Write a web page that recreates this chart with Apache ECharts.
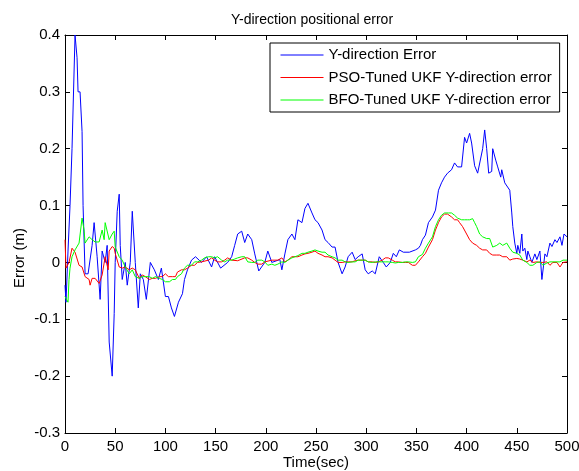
<!DOCTYPE html>
<html>
<head>
<meta charset="utf-8">
<script src="https://cdn.jsdelivr.net/npm/echarts@6/dist/echarts.min.js"></script>
<style>
html, body { margin: 0; padding: 0; background: #fff; }
#chart { width: 579px; height: 471px; }
</style>
</head>
<body>
<div id="chart"></div>
<script>
// ******** data ********
var seriesNames = ['Y-direction Error', 'PSO-Tuned UKF Y-direction error', 'BFO-Tuned UKF Y-direction error'];
var seriesColors = ['#0000ff', '#ff0000', '#00ff00'];

var blueT = [0,1,3,5,7,10,12,13,15,17,18,20,23,27,29,32,35,37,40,42,44,47,49,50,52,54,55,57,60,62,
    65,67,70,73,75,78,81,85,89,93,96,100,103,106,109,113,117,119,122,126,130,136,141,146,149,155,162,166,169,172,
    176,179,182,186,189,193,199,202,206,214,216,219,222,226,229,232,236,239,242,246,249,252,256,259,262,266,269,272,276,279,
    282,286,289,292,296,299,302,306,309,313,317,320,324,327,330,333,337,343,349,352,354,356,359,362,366,369,372,375,378,381,
    385,388,391,395,398,400,403,405,408,411,416,418,420,422,425,426,429,431,434,435,438,443,445,446,448,450,451,453,455,456,
    458,460,461,463,465,468,470,473,475,478,480,483,485,488,490,493,495,497,500];
var blueY = [-0.04,-0.07,0.02,0.1,0.2,0.4,0.36,0.3,0.3,0.23,0.1,-0.02,-0.02,0.03,0.07,0.01,-0.065,0.02,0,0.03,
    -0.14,-0.2,-0.09,0,0.09,0.12,0.03,-0.03,0,-0.04,0,0.09,0,-0.08,-0.02,-0.03,-0.065,0,-0.013,-0.03,
    -0.01,-0.06,-0.06,-0.08,-0.095,-0.07,-0.055,-0.03,-0.013,0.004,0.01,0,0.01,-0.008,0.01,-0.01,0,0.01,0.03,0.05,
    0.055,0.035,0.05,0.04,0.015,-0.015,0,0.02,0,0.005,-0.013,0.015,0.04,0.05,0.04,0.075,0.07,0.095,0.104,0.087,
    0.075,0.07,0.057,0.04,0.035,0.027,0.027,0,-0.02,-0.008,0.01,0.018,0.005,0.01,0.015,-0.013,-0.02,-0.015,-0.02,0.01,
    0,-0.008,0,0.016,0.01,0.022,0.018,0.018,0.022,0.025,0.03,0.04,0.048,0.07,0.08,0.092,0.127,0.14,0.15,0.157,
    0.163,0.175,0.168,0.168,0.22,0.21,0.227,0.21,0.17,0.157,0.2,0.233,0.2,0.157,0.16,0.2,0.18,0.168,0.15,0.163,
    0.14,0.127,0.087,0.063,0.034,0.016,0.03,0.016,0.05,0.02,0.025,0.005,0.02,0.01,0,0.015,0.005,0.02,-0.03,0.015,
    0.01,0.034,0.028,0.04,0.035,0.045,0.03,0.05,0.045];

var redT = [0,1,4,7,10,14,17,20,24,25,27,30,34,37,40,43,44,47,49,50,54,57,60,64,67,70,74,77,80,84,
    87,90,94,97,100,103,107,110,112,116,119,122,126,129,132,136,143,146,149,152,156,159,162,166,172,179,182,186,189,192,
    196,199,206,212,216,219,222,226,232,236,239,242,246,249,252,256,259,262,266,269,272,276,279,282,286,289,292,296,299,302,
    306,309,312,316,319,322,326,329,332,336,339,342,346,349,352,356,359,362,366,369,372,375,378,381,385,388,391,393,396,400,
    403,406,410,413,416,420,423,426,430,433,436,440,443,446,450,453,456,460,463,466,470,473,476,480,483,486,490,493,496,500];
var redY = [0.04,-0.01,0,0.025,0.018,-0.005,-0.008,-0.025,-0.03,-0.04,-0.028,-0.028,-0.037,-0.022,0.01,-0.013,0.02,0.028,0.025,0.016,
    -0.008,-0.01,-0.008,-0.013,-0.01,-0.013,-0.028,-0.022,-0.025,-0.03,-0.028,-0.028,-0.025,-0.025,-0.02,-0.025,-0.025,-0.025,-0.017,-0.013,
    -0.013,-0.01,-0.005,-0.005,0,0.001,0.004,0.008,0.004,0.001,0.001,0.004,0.008,0.004,0.003,0.008,0.008,0.004,0,-0.003,
    -0.003,0.001,0.004,0.004,0.008,0.001,0.004,0.01,0.01,0.013,0.015,0.016,0.018,0.02,0.016,0.013,0.01,0.01,0.008,0.004,
    0,0,0.001,0.001,0.001,0.003,0.004,0.004,0.004,0.001,0.001,0,0.001,0.004,0.008,0.008,0.004,0.001,0.001,0,
    0,0,-0.005,-0.005,0.001,0.01,0.016,0.027,0.04,0.057,0.07,0.08,0.085,0.085,0.08,0.075,0.075,0.07,0.063,0.05,
    0.04,0.034,0.03,0.025,0.022,0.022,0.016,0.013,0.013,0.013,0.01,0.01,0.004,0.006,0.007,0.006,0.004,0.001,0.004,0,
    0.001,0,0,0.001,-0.005,0,0,-0.008,0,0.001];

var greenT = [0,1,3,4,5,7,10,14,17,19,20,24,27,30,34,37,39,40,44,47,49,50,54,57,60,64,67,70,74,77,
    80,84,87,90,94,97,100,104,107,110,112,116,119,122,126,129,132,136,139,143,146,149,152,156,159,162,166,169,172,176,
    179,182,186,189,192,196,199,202,206,209,212,216,219,222,226,229,232,236,239,242,246,249,252,256,259,262,266,269,272,276,
    279,282,286,289,292,296,299,302,306,309,312,316,319,322,326,329,332,336,339,342,346,349,352,356,359,362,366,369,372,375,
    378,382,385,388,391,395,398,401,403,406,408,410,413,416,420,423,426,430,433,436,440,443,446,450,453,456,460,463,466,470,
    473,476,480,483,486,490,493,496,500];
var greenY = [-0.06,-0.06,-0.07,-0.03,-0.01,0.01,0.022,0.034,0.078,0.057,0.034,0.045,0.04,0.036,0.036,0.057,0.04,0.07,0.04,0.05,
    0.055,0.027,0.01,0.004,-0.008,-0.02,-0.013,-0.025,-0.028,-0.025,-0.025,-0.025,-0.028,-0.025,-0.028,-0.03,-0.034,-0.034,-0.03,-0.03,
    -0.025,-0.02,-0.01,-0.005,-0.005,0.001,0.001,0.004,0.008,0.01,0.01,0.008,0.01,0.004,0.001,0.004,0.004,0.006,0.008,0.01,
    0.01,0.001,0,0,0.004,0.004,0.001,-0.005,-0.003,-0.005,-0.003,0.001,0,0.004,0.008,0.01,0.012,0.016,0.016,0.018,
    0.02,0.022,0.02,0.018,0.018,0.013,0.01,0.008,0.004,0.004,0.001,0,0.001,0.001,0.004,0.004,0.004,0.001,0,0.001,
    0.001,0.001,0.001,0.001,0,-0.001,0,0,0.001,0.001,0,0.001,0.01,0.014,0.025,0.034,0.045,0.063,0.075,0.083,
    0.087,0.087,0.087,0.083,0.078,0.075,0.075,0.075,0.075,0.077,0.07,0.063,0.05,0.045,0.042,0.042,0.027,0.03,0.034,0.03,
    0.034,0.025,0.018,0.016,0.013,0.004,0,-0.005,-0.005,0,0.001,-0.005,-0.001,0.001,0.001,0.001,0.001,0.004,0.004];

function pairs(t, y) {
    var out = [];
    for (var i = 0; i < t.length; i++) out.push([t[i], y[i]]);
    return out;
}

// ******** chart ********
var font = 'Liberation Sans, Arial, sans-serif';
var chart = echarts.init(document.getElementById('chart'));

function xAx(pos, showLabel) {
    return {
        type: 'value', position: pos, min: 0, max: 500, interval: 50,
        axisLine: { show: true, onZero: false, lineStyle: { color: '#000', width: 1 } },
        axisTick: { show: true, inside: true, length: 5, lineStyle: { color: '#000' } },
        axisLabel: { show: showLabel, color: '#000', fontSize: 15, fontFamily: font, margin: 6 },
        splitLine: { show: false }
    };
}
function yAx(pos, showLabel) {
    return {
        type: 'value', position: pos, min: -0.3, max: 0.4, interval: 0.1,
        axisLine: { show: true, onZero: false, lineStyle: { color: '#000', width: 1 } },
        axisTick: { show: true, inside: true, length: 5, lineStyle: { color: '#000' } },
        axisLabel: {
            show: showLabel, color: '#000', fontSize: 15, fontFamily: font, margin: 5,
            formatter: function (v) { return String(Number(v.toFixed(1))); }
        },
        splitLine: { show: false }
    };
}

var xBottom = xAx('bottom', true);
xBottom.name = 'Time(sec)';
xBottom.nameLocation = 'middle';
xBottom.nameGap = 22;
xBottom.nameMoveOverlap = false;
xBottom.nameTextStyle = { color: '#000', fontSize: 15, fontFamily: font };

var yLeft = yAx('left', true);
yLeft.name = 'Error (m)';
yLeft.nameLocation = 'middle';
yLeft.nameGap = 38;
yLeft.nameMoveOverlap = false;
yLeft.nameTextStyle = { color: '#000', fontSize: 15, fontFamily: font, padding: [0, 48, 0, 0] };

function line(name, color, data) {
    return {
        name: name, type: 'line', data: data, color: color,
        symbol: 'none', showSymbol: false,
        lineStyle: { color: color, width: 1 },
        itemStyle: { color: color },
        emphasis: { disabled: true }
    };
}

var legendData = seriesNames.map(function (n, i) {
    return { name: n, lineStyle: { color: seriesColors[i], width: 1 } };
});

chart.setOption({
    animation: false,
    backgroundColor: '#fff',
    color: seriesColors,
    title: {
        text: 'Y-direction positional error',
        left: 307, top: 8, textAlign: 'center',
        textStyle: { color: '#000', fontSize: 14, fontWeight: 'normal', fontFamily: font }
    },
    grid: { left: 65, right: 12, top: 35, bottom: 38, containLabel: false, outerBoundsMode: 'none' },
    legend: {
        data: legendData,
        orient: 'vertical',
        left: 270, top: 43,
        padding: [3, 8, 3, 10],
        itemWidth: 43, itemHeight: 18, itemGap: 4.5,
        itemStyle: { opacity: 0 },
        backgroundColor: '#fff',
        borderColor: '#000', borderWidth: 1,
        textStyle: { color: '#000', fontSize: 15, lineHeight: 18, fontFamily: font }
    },
    xAxis: [xBottom, xAx('top', false)],
    yAxis: [yLeft, yAx('right', false)],
    series: [
        line(seriesNames[0], seriesColors[0], pairs(blueT, blueY)),
        line(seriesNames[1], seriesColors[1], pairs(redT, redY)),
        line(seriesNames[2], seriesColors[2], pairs(greenT, greenY))
    ]
});
</script>
</body>
</html>
